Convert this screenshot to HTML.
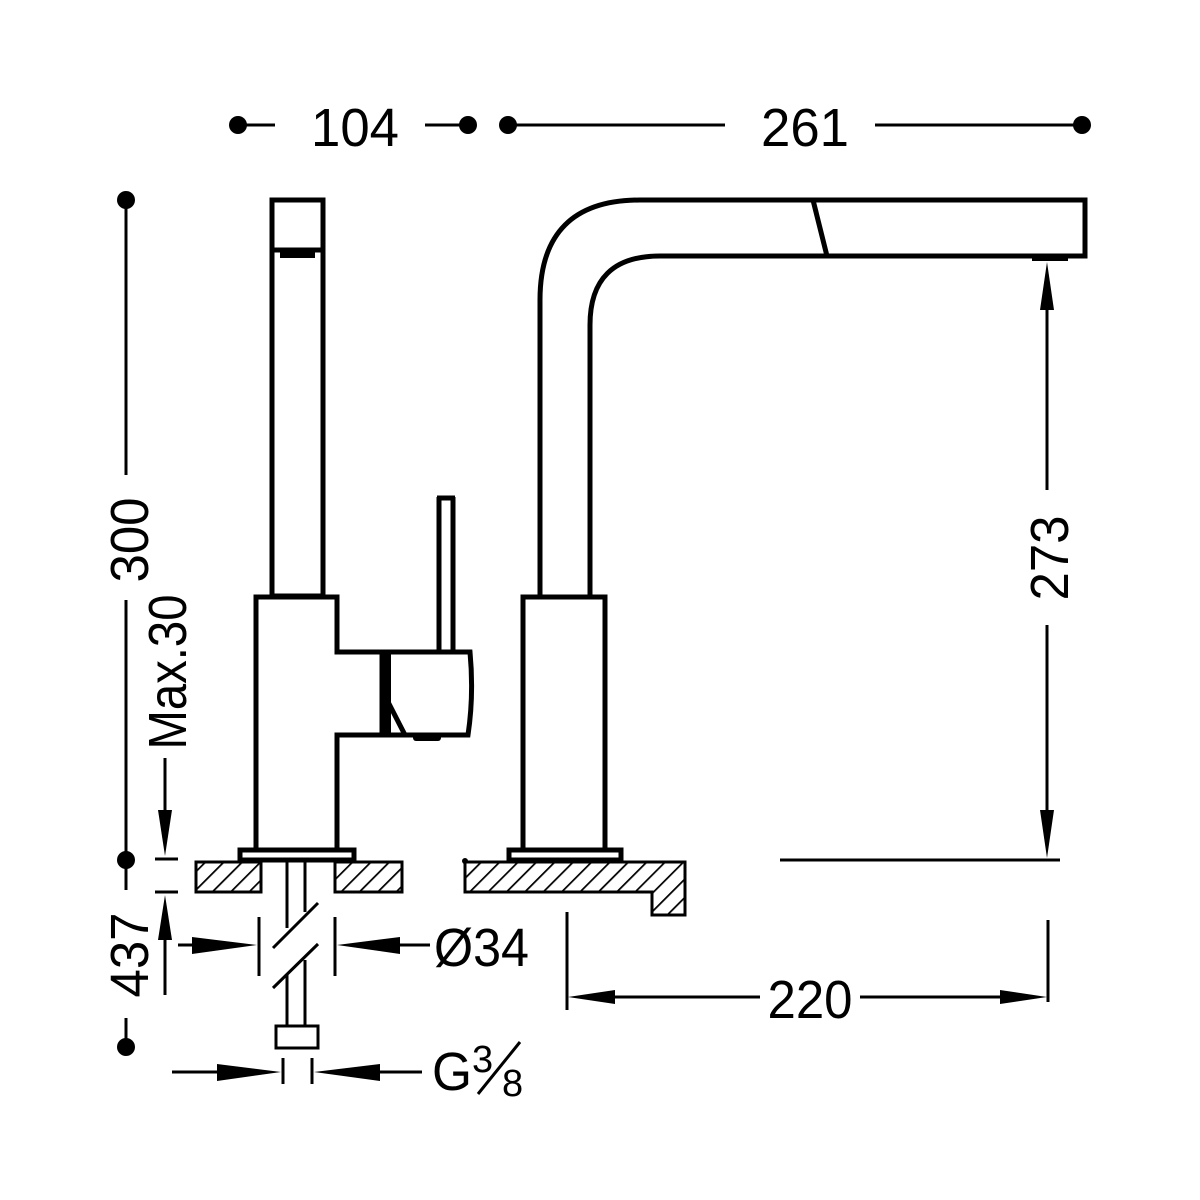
<!DOCTYPE html>
<html><head><meta charset="utf-8"><style>html,body{margin:0;padding:0;background:#fff}svg{display:block}</style></head>
<body>
<svg width="1200" height="1200" viewBox="0 0 1200 1200" xmlns="http://www.w3.org/2000/svg">
<defs>
<pattern id="h" patternUnits="userSpaceOnUse" width="13" height="13" patternTransform="rotate(45)">
<line x1="0" y1="0" x2="0" y2="13" stroke="#000" stroke-width="3.5"/>
</pattern>
</defs>
<g font-family="Liberation Sans, sans-serif" font-size="54" fill="#000">
<text x="355" y="146" text-anchor="middle" textLength="88" lengthAdjust="spacingAndGlyphs">104</text>
<text x="805" y="146" text-anchor="middle" textLength="88" lengthAdjust="spacingAndGlyphs">261</text>
<text transform="translate(148,540) rotate(-90)" text-anchor="middle" textLength="85" lengthAdjust="spacingAndGlyphs">300</text>
<text transform="translate(148,955) rotate(-90)" text-anchor="middle" textLength="85" lengthAdjust="spacingAndGlyphs">437</text>
<text transform="translate(186,672) rotate(-90)" text-anchor="middle" textLength="155" lengthAdjust="spacingAndGlyphs">Max.30</text>
<text transform="translate(1068,558) rotate(-90)" text-anchor="middle" textLength="85" lengthAdjust="spacingAndGlyphs">273</text>
<text x="810" y="1018" text-anchor="middle" textLength="85" lengthAdjust="spacingAndGlyphs">220</text>
<text x="434" y="966" textLength="95" lengthAdjust="spacingAndGlyphs">Ø34</text>
<text x="432" y="1090" textLength="40" lengthAdjust="spacingAndGlyphs">G</text>
<text x="472" y="1072" font-size="38">3</text>
<text x="502" y="1096" font-size="38">8</text>
</g>
<line x1="478" y1="1094" x2="520" y2="1042" stroke="#000" stroke-width="3"/>

<g stroke="#000" stroke-width="3" fill="none">
<line x1="245" y1="125" x2="275" y2="125"/><line x1="425" y1="125" x2="462" y2="125"/>
<line x1="512" y1="125" x2="725" y2="125"/><line x1="875" y1="125" x2="1078" y2="125"/>
<line x1="126" y1="200" x2="126" y2="475"/><line x1="126" y1="600" x2="126" y2="855"/>
<line x1="126" y1="866" x2="126" y2="890"/><line x1="126" y1="1018" x2="126" y2="1040"/>
<line x1="165" y1="758" x2="165" y2="810"/>
<line x1="155" y1="859" x2="178" y2="859"/><line x1="155" y1="892" x2="178" y2="892"/>
<line x1="165" y1="935" x2="165" y2="995"/>
<line x1="1047" y1="305" x2="1047" y2="490"/><line x1="1047" y1="625" x2="1047" y2="815"/>
<line x1="780" y1="860" x2="1060" y2="860"/>
<line x1="567" y1="912" x2="567" y2="1010"/><line x1="1048" y1="920" x2="1048" y2="1002"/>
<line x1="610" y1="997" x2="760" y2="997"/><line x1="860" y1="997" x2="1005" y2="997"/>
<line x1="259" y1="917" x2="259" y2="976"/><line x1="335" y1="917" x2="335" y2="976"/>
<line x1="178" y1="945" x2="195" y2="945"/><line x1="395" y1="945" x2="430" y2="945"/>
<line x1="283" y1="1058" x2="283" y2="1084"/><line x1="312" y1="1058" x2="312" y2="1084"/>
<line x1="172" y1="1072" x2="220" y2="1072"/><line x1="378" y1="1072" x2="422" y2="1072"/>
<line x1="287" y1="862" x2="287" y2="928"/><line x1="305" y1="862" x2="305" y2="912"/>
<line x1="287" y1="975" x2="287" y2="1026"/><line x1="305" y1="960" x2="305" y2="1026"/>
<line x1="273" y1="948" x2="318" y2="903"/><line x1="273" y1="988" x2="318" y2="944"/>
<rect x="276" y="1026" width="42" height="22"/>
</g>
<g fill="#000">
<circle cx="238" cy="125" r="9"/><circle cx="468" cy="125" r="9"/>
<circle cx="508" cy="125" r="9"/><circle cx="1082" cy="125" r="9"/>
<circle cx="126" cy="200" r="9"/><circle cx="126" cy="860" r="9"/><circle cx="126" cy="1047" r="9"/>
<circle cx="465" cy="861" r="3"/>
<polygon points="158,810 172,810 165,856"/>
<polygon points="158,940 172,940 165,895"/>
<polygon points="1040,310 1054,310 1047,262"/>
<polygon points="1040,810 1054,810 1047,858"/>
<polygon points="615,990 615,1004 568,997"/>
<polygon points="1000,990 1000,1004 1047,997"/>
<polygon points="192,937 192,954 257,945"/>
<polygon points="400,937 400,954 337,945"/>
<polygon points="217,1064 217,1081 281,1072"/>
<polygon points="380,1064 380,1081 314,1072"/>
</g>

<g stroke="#000" stroke-width="3">
<rect x="196" y="862" width="65" height="30" fill="url(#h)"/>
<rect x="335" y="862" width="67" height="30" fill="url(#h)"/>
<path d="M465 862 H685 V915 H652 V892 H465 Z" fill="url(#h)"/>
</g>

<g stroke="#000" stroke-width="5" fill="none">
<rect x="272" y="200" width="51" height="396"/>
<line x1="272" y1="250" x2="323" y2="250"/>
<path d="M256 597 H337 V652 H470 Q474 695 468 735 H337 V850 H256 Z"/>
<line x1="382" y1="652" x2="382" y2="735"/>
<line x1="385" y1="696" x2="405" y2="735"/>
<line x1="439" y1="497" x2="439" y2="652"/><line x1="453" y1="497" x2="453" y2="652"/>
<line x1="437" y1="498" x2="455" y2="498"/>
<rect x="240" y="850" width="114" height="10"/>
<rect x="523" y="597" width="82" height="253"/>
<rect x="509" y="850" width="112" height="10"/>
<path d="M540 597 V300 Q540 200 640 200 H1085 V256 H660 Q590 256 590 325 V597"/>
<line x1="813" y1="200" x2="827" y2="256"/>
</g>
<g fill="#000">
<rect x="280" y="250" width="35" height="8"/>
<rect x="413" y="733" width="28" height="8" rx="3"/>
<rect x="383" y="652" width="8" height="83"/>
<rect x="1032" y="255" width="36" height="6"/>
</g>
</svg>
</body></html>
